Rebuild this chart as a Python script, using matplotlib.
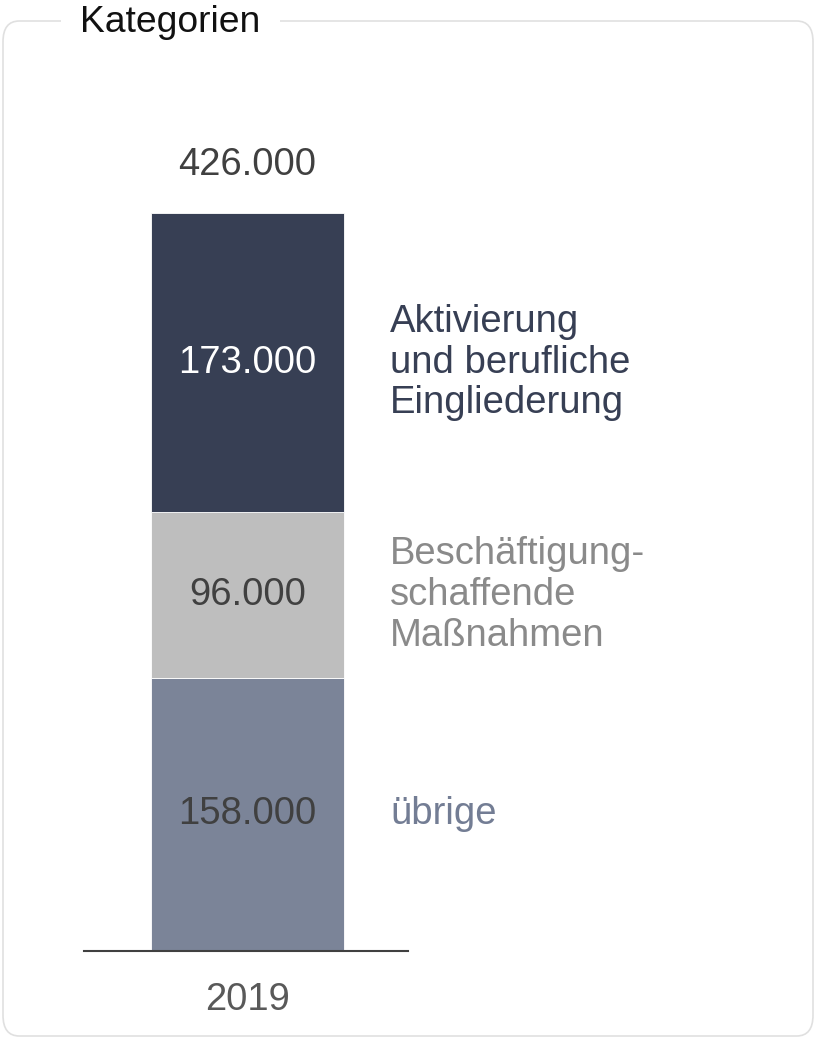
import matplotlib
matplotlib.use("Agg")
import matplotlib.pyplot as plt
from matplotlib.patches import FancyBboxPatch

plt.rcParams['font.family'] = ['Liberation Sans', 'DejaVu Sans']

# Data
year_label = "2019"
total_label = "426.000"
series_names = ["übrige", "Beschäftigung-\nschaffende\nMaßnahmen", "Aktivierung\nund berufliche\nEingliederung"]
series_values = [158, 96, 173]
value_labels = ["158.000", "96.000", "173.000"]
bar_colors = ["#7b8498", "#bebebe", "#373f54"]
inside_text_colors = ["#404040", "#404040", "#ffffff"]
name_colors = ["#737d94", "#8a8a8a", "#373f54"]

W, H = 815, 1038
fig = plt.figure(figsize=(W / 100, H / 100), dpi=100)

def fx(px):
    return px / W

def fy(py):
    return 1 - py / H

FS = 27.5

# rounded border box
box = FancyBboxPatch((fx(3), fy(1036)), fx(810), 1015 / H,
                     boxstyle="round,pad=0,rounding_size=0.02",
                     transform=fig.transFigure, facecolor="none",
                     edgecolor="#e0e0e0", linewidth=1.2, zorder=1)
fig.patches.append(box)
fig.text(fx(80), fy(22), "Kategorien", fontsize=26.8, color="#111111",
         ha="left", va="center", zorder=5,
         bbox=dict(facecolor="white", edgecolor="none", pad=14))

# axes: line spans x 84..408 px, baseline at y 951, top 213
ax = fig.add_axes([fx(84), fy(951), fx(408 - 84), (951 - 213) / H])
bar_w = 1.0
px_per_unit = 193 / bar_w
ax.set_xlim(-163.5 / px_per_unit, 160.5 / px_per_unit)
ymax = sum(series_values)
ax.set_ylim(0, ymax)

bottom = 0
for val, col, lab, tcol, name, ncol in zip(series_values, bar_colors, value_labels,
                                           inside_text_colors, series_names, name_colors):
    ax.bar(0, val, width=bar_w, bottom=bottom, color=col, edgecolor="white", linewidth=0.6)
    mid = bottom + val / 2
    ax.text(0, mid, lab, ha="center", va="center", fontsize=FS, color=tcol)
    ax.text(0.74, mid, name, ha="left", va="center", fontsize=FS, color=ncol,
            linespacing=1.17, clip_on=False)
    bottom += val

ax.text(0, ymax + 28, total_label, ha="center", va="center", fontsize=FS,
        color="#404040", clip_on=False)

for s in ["top", "right", "left"]:
    ax.spines[s].set_visible(False)
ax.spines["bottom"].set_color("#404040")
ax.spines["bottom"].set_linewidth(1.5)
ax.set_yticks([])
ax.set_xticks([0])
ax.set_xticklabels([year_label], fontsize=FS, color="#595959")
ax.tick_params(axis="x", length=0, pad=22)

fig.savefig("out.png", dpi=100, facecolor="white")
